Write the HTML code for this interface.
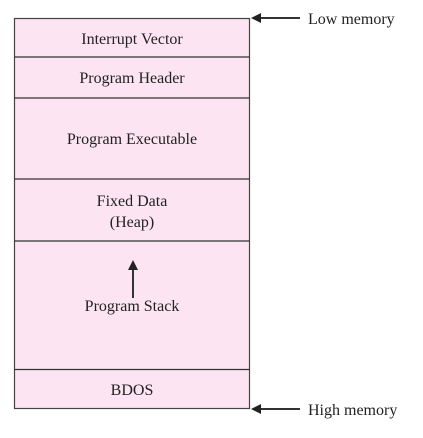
<!DOCTYPE html>
<html><head><style>body{margin:0;background:#fff}</style></head><body>
<svg width="423" height="433" xmlns="http://www.w3.org/2000/svg" font-family="Liberation Serif, serif" font-size="16" fill="#222">
<rect x="14.5" y="18.5" width="235" height="390" fill="#fce4f2" stroke="#444" stroke-width="1.2"/>
<g stroke="#333" stroke-width="1.2">
<line x1="14" y1="57" x2="250" y2="57"/>
<line x1="14" y1="98" x2="250" y2="98"/>
<line x1="14" y1="179" x2="250" y2="179"/>
<line x1="14" y1="241" x2="250" y2="241"/>
<line x1="14" y1="369.5" x2="250" y2="369.5"/>
<line x1="133" y1="268" x2="133" y2="298" stroke-width="2"/>
<line x1="260" y1="18" x2="300" y2="18" stroke-width="2"/>
<line x1="260" y1="409" x2="300" y2="409" stroke-width="2"/>
</g>
<polygon points="133,260 128,270 138,270" fill="#222"/>
<polygon points="251,18 261,13 261,23" fill="#222"/>
<polygon points="251,409 261,404 261,414" fill="#222"/>
<g text-anchor="middle">
<text x="132" y="44">Interrupt Vector</text>
<text x="132" y="83">Program Header</text>
<text x="132" y="144">Program Executable</text>
<text x="132" y="206">Fixed Data</text>
<text x="132" y="227">(Heap)</text>
<text x="132" y="311">Program Stack</text>
<text x="132" y="395">BDOS</text>
</g>
<text x="308" y="24">Low memory</text>
<text x="308" y="415">High memory</text>
</svg>
</body></html>
